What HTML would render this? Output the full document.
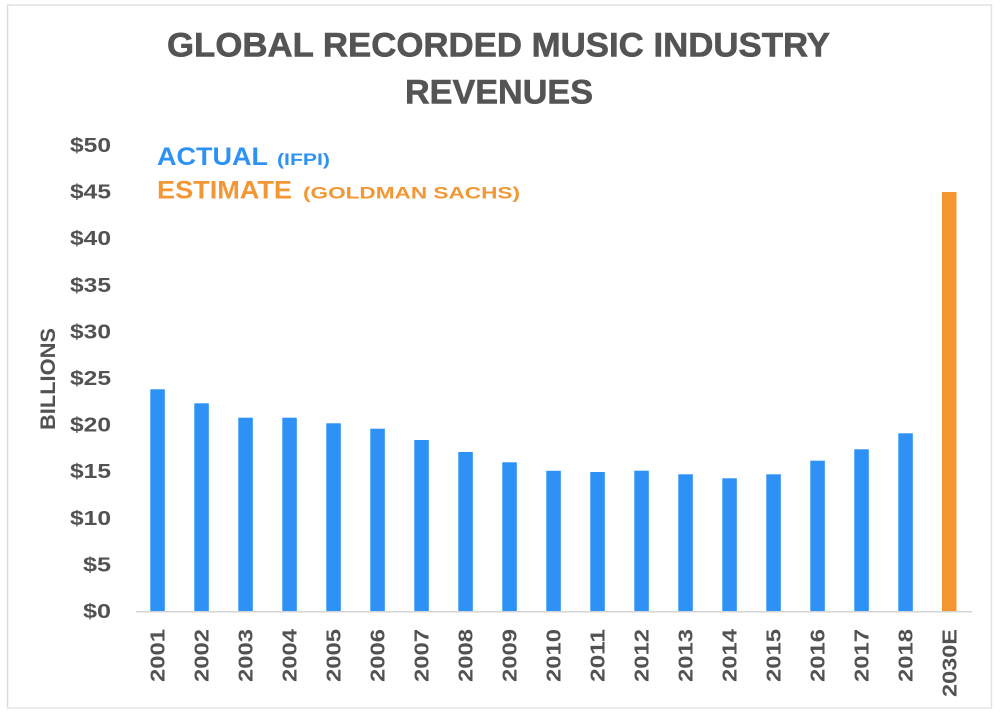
<!DOCTYPE html>
<html><head><meta charset="utf-8"><style>
html,body{margin:0;padding:0;background:#fff;}
svg{display:block;}
text{font-family:"Liberation Sans",sans-serif;font-weight:bold;}
</style></head><body>
<svg width="1003" height="720" viewBox="0 0 1003 720" xmlns="http://www.w3.org/2000/svg">
<rect width="1003" height="720" fill="#fff"/>
<!-- frame -->
<line x1="7" y1="5" x2="992" y2="5" stroke="#e2e2e2" stroke-width="1.5"/>
<line x1="7.5" y1="5" x2="7.5" y2="708" stroke="#dcdcdc" stroke-width="1.5"/>
<line x1="991.5" y1="5" x2="991.5" y2="708" stroke="#e2e2e2" stroke-width="1.5"/>
<line x1="7" y1="708" x2="992" y2="708" stroke="#e6e6e6" stroke-width="1.5"/>
<!-- title -->
<text x="167" y="56.5" font-size="34" fill="#545456" stroke="#545456" stroke-width="0.6" textLength="663" lengthAdjust="spacingAndGlyphs">GLOBAL RECORDED MUSIC INDUSTRY</text>
<text x="405" y="103.5" font-size="34" fill="#545456" stroke="#545456" stroke-width="0.6" textLength="188" lengthAdjust="spacingAndGlyphs">REVENUES</text>
<!-- legend -->
<text x="157" y="165" font-size="25" fill="#2e92f4" textLength="111" lengthAdjust="spacingAndGlyphs">ACTUAL</text>
<text x="277" y="165" font-size="17" fill="#2e92f4" textLength="53" lengthAdjust="spacingAndGlyphs">(IFPI)</text>
<text x="157" y="198.5" font-size="25" fill="#f39634" textLength="135" lengthAdjust="spacingAndGlyphs">ESTIMATE</text>
<text x="303" y="198.5" font-size="17" fill="#f39634" textLength="217" lengthAdjust="spacingAndGlyphs">(GOLDMAN SACHS)</text>
<!-- y axis labels -->
<g font-size="20" fill="#525254" text-anchor="end">
<text x="111" y="152" textLength="41" lengthAdjust="spacingAndGlyphs">$50</text>
<text x="111" y="198.6" textLength="41" lengthAdjust="spacingAndGlyphs">$45</text>
<text x="111" y="245.2" textLength="41" lengthAdjust="spacingAndGlyphs">$40</text>
<text x="111" y="291.8" textLength="41" lengthAdjust="spacingAndGlyphs">$35</text>
<text x="111" y="338.4" textLength="41" lengthAdjust="spacingAndGlyphs">$30</text>
<text x="111" y="385" textLength="41" lengthAdjust="spacingAndGlyphs">$25</text>
<text x="111" y="431.6" textLength="41" lengthAdjust="spacingAndGlyphs">$20</text>
<text x="111" y="478.2" textLength="41" lengthAdjust="spacingAndGlyphs">$15</text>
<text x="111" y="524.8" textLength="41" lengthAdjust="spacingAndGlyphs">$10</text>
<text x="111" y="571.4" textLength="28" lengthAdjust="spacingAndGlyphs">$5</text>
<text x="111" y="618" textLength="28" lengthAdjust="spacingAndGlyphs">$0</text>
</g>
<text transform="translate(55,430) rotate(-90)" font-size="21" fill="#525254" textLength="102" lengthAdjust="spacingAndGlyphs">BILLIONS</text>
<!-- bars -->
<g fill="#2d91f6">
<rect x="150.3" y="389.3" width="14.5" height="222"/>
<rect x="194.3" y="403.3" width="14.5" height="208"/>
<rect x="238.3" y="417.7" width="14.5" height="193.6"/>
<rect x="282.3" y="417.7" width="14.5" height="193.6"/>
<rect x="326.3" y="423.3" width="14.5" height="188"/>
<rect x="370.3" y="428.7" width="14.5" height="182.6"/>
<rect x="414.3" y="440" width="14.5" height="171.3"/>
<rect x="458.3" y="452" width="14.5" height="159.3"/>
<rect x="502.3" y="462.3" width="14.5" height="149"/>
<rect x="546.3" y="470.8" width="14.5" height="140.5"/>
<rect x="590.3" y="472" width="14.5" height="139.3"/>
<rect x="634.3" y="470.7" width="14.5" height="140.6"/>
<rect x="678.3" y="474.3" width="14.5" height="137"/>
<rect x="722.3" y="478.3" width="14.5" height="133"/>
<rect x="766.3" y="474.3" width="14.5" height="137"/>
<rect x="810.3" y="460.7" width="14.5" height="150.6"/>
<rect x="854.3" y="449.3" width="14.5" height="162"/>
<rect x="898.3" y="433.3" width="14.5" height="178"/>
</g>
<rect x="942" y="192" width="14.5" height="419.3" fill="#f4952f"/>
<!-- axis line -->
<line x1="136" y1="611.8" x2="972" y2="611.8" stroke="#d4d4d4" stroke-width="1.5"/>
<!-- x labels -->
<g font-size="20" fill="#525254">
<text transform="translate(164.5,682) rotate(-90)" textLength="53" lengthAdjust="spacingAndGlyphs">2001</text>
<text transform="translate(208.5,682) rotate(-90)" textLength="53" lengthAdjust="spacingAndGlyphs">2002</text>
<text transform="translate(252.5,682) rotate(-90)" textLength="53" lengthAdjust="spacingAndGlyphs">2003</text>
<text transform="translate(296.5,682) rotate(-90)" textLength="53" lengthAdjust="spacingAndGlyphs">2004</text>
<text transform="translate(340.5,682) rotate(-90)" textLength="53" lengthAdjust="spacingAndGlyphs">2005</text>
<text transform="translate(384.5,682) rotate(-90)" textLength="53" lengthAdjust="spacingAndGlyphs">2006</text>
<text transform="translate(428.5,682) rotate(-90)" textLength="53" lengthAdjust="spacingAndGlyphs">2007</text>
<text transform="translate(472.5,682) rotate(-90)" textLength="53" lengthAdjust="spacingAndGlyphs">2008</text>
<text transform="translate(516.5,682) rotate(-90)" textLength="53" lengthAdjust="spacingAndGlyphs">2009</text>
<text transform="translate(560.5,682) rotate(-90)" textLength="53" lengthAdjust="spacingAndGlyphs">2010</text>
<text transform="translate(604.5,682) rotate(-90)" textLength="53" lengthAdjust="spacingAndGlyphs">2011</text>
<text transform="translate(648.5,682) rotate(-90)" textLength="53" lengthAdjust="spacingAndGlyphs">2012</text>
<text transform="translate(692.5,682) rotate(-90)" textLength="53" lengthAdjust="spacingAndGlyphs">2013</text>
<text transform="translate(736.5,682) rotate(-90)" textLength="53" lengthAdjust="spacingAndGlyphs">2014</text>
<text transform="translate(780.5,682) rotate(-90)" textLength="53" lengthAdjust="spacingAndGlyphs">2015</text>
<text transform="translate(824.5,682) rotate(-90)" textLength="53" lengthAdjust="spacingAndGlyphs">2016</text>
<text transform="translate(868.5,682) rotate(-90)" textLength="53" lengthAdjust="spacingAndGlyphs">2017</text>
<text transform="translate(912.5,682) rotate(-90)" textLength="53" lengthAdjust="spacingAndGlyphs">2018</text>
<text transform="translate(956.5,697) rotate(-90)" textLength="68" lengthAdjust="spacingAndGlyphs">2030E</text>
</g>
</svg>
</body></html>
